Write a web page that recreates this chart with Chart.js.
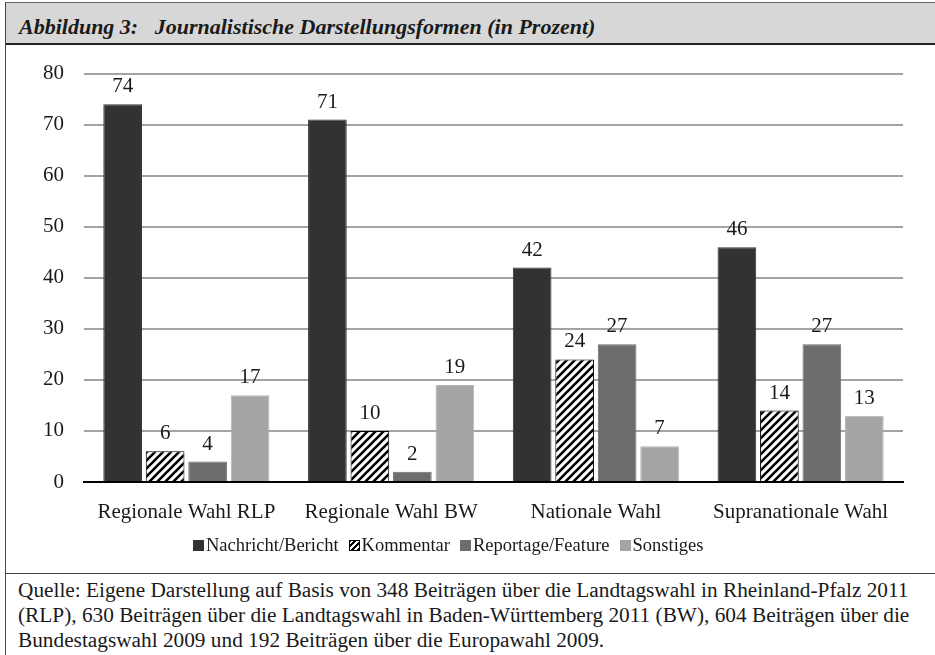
<!DOCTYPE html>
<html>
<head>
<meta charset="utf-8">
<script src="https://cdn.jsdelivr.net/npm/chart.js@4.4.1/dist/chart.umd.min.js"></script>
<style>
  html, body { margin: 0; padding: 0; background: #fff; }
  #page { position: relative; width: 935px; height: 655px; overflow: hidden; font-family: "Liberation Serif", "Times New Roman", serif; color: #1a1a1a; }
  #frame { position: absolute; left: 5px; top: 2px; width: 940px; height: 660px; border-left: 1.5px solid #444; border-top: 1px solid #666; }
  #header { position: absolute; left: 6px; top: 3px; width: 935px; height: 40px; background: #d7d7d7; border-bottom: 2px solid #222; z-index: 2; }
  #title { position: absolute; left: 13px; top: 11px; font-style: italic; font-weight: bold; font-size: 22px; white-space: pre; }
  #chartBox { position: absolute; left: 6px; top: 41px; width: 929px; height: 496px; }
  #legend { position: absolute; left: 193px; top: 535px; font-size: 18.5px; white-space: nowrap; }
  #legend span.item { display: inline-block; margin-right: 10px; }
  #legend span.box { display: inline-block; width: 11px; height: 11px; margin-right: 2px; vertical-align: 0px; box-sizing: border-box; }
  #footer { position: absolute; left: 6px; top: 573px; width: 935px; border-top: 1.5px solid #444; }
  #source { position: absolute; left: 12px; top: 4px; font-size: 21.3px; line-height: 25px; white-space: pre; }
</style>
</head>
<body>
<div id="page">
  <div id="frame"></div>
  <div id="chartBox"><canvas id="chart"></canvas></div>
  <div id="header"><div id="title">Abbildung 3:   Journalistische Darstellungsformen (in Prozent)</div></div>
  <div id="legend"></div>
  <div id="footer"><div id="source">Quelle: Eigene Darstellung auf Basis von 348 Beiträgen über die Landtagswahl in Rheinland-Pfalz 2011
(RLP), 630 Beiträgen über die Landtagswahl in Baden-Württemberg 2011 (BW), 604 Beiträgen über die
Bundestagswahl 2009 und 192 Beiträgen über die Europawahl 2009.</div></div>
</div>
<script>
// data
var categories = ['Regionale Wahl RLP', 'Regionale Wahl BW', 'Nationale Wahl', 'Supranationale Wahl'];
var seriesNames = ['Nachricht/Bericht', 'Kommentar', 'Reportage/Feature', 'Sonstiges'];
var nachricht = [74, 71, 42, 46];
var kommentar = [6, 10, 24, 14];
var reportage = [4, 2, 27, 27];
var sonstiges = [17, 19, 7, 13];
var yTicks = [0, 10, 20, 30, 40, 50, 60, 70, 80];

// hatch pattern for "Kommentar"
function makeHatch() {
    var c = document.createElement('canvas');
    c.width = 8; c.height = 8;
    var g = c.getContext('2d');
    g.fillStyle = '#fff';
    g.fillRect(0, 0, 8, 8);
    g.strokeStyle = '#000';
    g.lineWidth = 2.6;
    g.beginPath();
    g.moveTo(-2, 10); g.lineTo(10, -2);
    g.moveTo(-2, 2); g.lineTo(2, -2);
    g.moveTo(6, 10); g.lineTo(10, 6);
    g.stroke();
    return g.createPattern(c, 'repeat');
}
var hatch = makeHatch();

var fills = ['#323232', hatch, '#6d6d6d', '#a5a5a5'];
var borders = ['#323232', '#000000', '#6d6d6d', '#b5b5b5'];
var legendCss = ['#323232',
    'repeating-linear-gradient(-45deg, #000 0 2px, #fff 2px 4px)',
    '#6d6d6d', '#a5a5a5'];

// simple value labels above the bars
var valueLabels = {
    id: 'valueLabels',
    afterDatasetsDraw: function (chart) {
        var ctx = chart.ctx;
        ctx.save();
        ctx.font = '21px "Liberation Serif", "Times New Roman", serif';
        ctx.fillStyle = '#1a1a1a';
        ctx.textAlign = 'center';
        ctx.textBaseline = 'alphabetic';
        chart.data.datasets.forEach(function (ds, i) {
            chart.getDatasetMeta(i).data.forEach(function (bar, j) {
                ctx.fillText(ds.data[j], bar.x, bar.y - 12);
            });
        });
        ctx.restore();
    }
};

var allSeries = [nachricht, kommentar, reportage, sonstiges];
var datasets = allSeries.map(function (vals, i) {
    return {
        label: seriesNames[i],
        data: vals,
        backgroundColor: fills[i],
        borderColor: borders[i],
        borderWidth: 1,
        categoryPercentage: 0.83,
        barPercentage: 0.91
    };
});

var ctx = document.getElementById('chart').getContext('2d');
var chart = new Chart(ctx, {
    type: 'bar',
    data: { labels: categories, datasets: datasets },
    options: {
        responsive: true,
        maintainAspectRatio: false,
        animation: false,
        layout: { padding: { top: 24, right: 32, left: 0, bottom: 0 } },
        scales: {
            x: {
                grid: { display: false },
                border: { display: true, color: '#000', width: 2 },
                ticks: { color: '#1a1a1a', padding: 10, font: { family: 'Liberation Serif', size: 21 } },
                afterFit: function (scale) { scale.height = 55; }
            },
            y: {
                min: 0,
                max: 80,
                afterBuildTicks: function (scale) {
                    scale.ticks = yTicks.map(function (v) { return { value: v }; });
                },
                grid: {
                    drawTicks: false,
                    lineWidth: 2,
                    color: function (c) { return c.tick && c.tick.value === 0 ? '#000' : '#a4a4a4'; }
                },
                border: { display: false },
                ticks: { color: '#1a1a1a', padding: 20, font: { family: 'Liberation Serif', size: 21 } },
                afterFit: function (scale) { scale.width = 78; }
            }
        },
        plugins: {
            legend: { display: false },
            tooltip: { enabled: false }
        }
    },
    plugins: [valueLabels]
});

// legend in html, built from the series names
var legendEl = document.getElementById('legend');
seriesNames.forEach(function (name, i) {
    var item = document.createElement('span');
    item.className = 'item';
    var box = document.createElement('span');
    box.className = 'box';
    box.style.background = legendCss[i];
    if (i === 1) box.style.border = '1px solid #000';
    item.appendChild(box);
    item.appendChild(document.createTextNode(name));
    legendEl.appendChild(item);
});
</script>
</body>
</html>
